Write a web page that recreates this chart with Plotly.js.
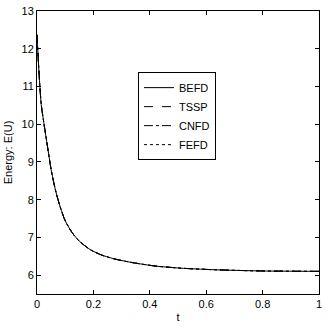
<!DOCTYPE html>
<html>
<head>
<meta charset="utf-8">
<script src="https://cdn.plot.ly/plotly-3.0.1.min.js"></script>
<style>
  html, body { margin: 0; padding: 0; background: #fff; }
  #chart { width: 327px; height: 327px; }
</style>
</head>
<body>
<div id="chart"></div>
<script>
// time samples and energy of each scheme (curves overlap)
let t = [0, 0.005, 0.01, 0.015, 0.025, 0.037, 0.05, 0.065, 0.08, 0.1, 0.125, 0.15, 0.19, 0.23, 0.28, 0.34, 0.42, 0.52, 0.64, 0.8, 1.0];
let energyBEFD = [12.37, 11.65, 11.02, 10.52, 10.0, 9.42, 8.8, 8.27, 7.86, 7.44, 7.12, 6.9, 6.67, 6.53, 6.42, 6.33, 6.24, 6.18, 6.14, 6.11, 6.1];
let energyTSSP = [12.37, 11.65, 11.02, 10.52, 10.0, 9.42, 8.8, 8.27, 7.86, 7.44, 7.12, 6.9, 6.67, 6.53, 6.42, 6.33, 6.24, 6.18, 6.14, 6.11, 6.1];
let energyCNFD = [12.37, 11.65, 11.02, 10.52, 10.0, 9.42, 8.8, 8.27, 7.86, 7.44, 7.12, 6.9, 6.67, 6.53, 6.42, 6.33, 6.24, 6.18, 6.14, 6.11, 6.1];
let energyFEFD = [12.37, 11.65, 11.02, 10.52, 10.0, 9.42, 8.8, 8.27, 7.86, 7.44, 7.12, 6.9, 6.67, 6.53, 6.42, 6.33, 6.24, 6.18, 6.14, 6.11, 6.1];

let names = ['BEFD', 'TSSP', 'CNFD', 'FEFD'];
let series = [energyBEFD, energyTSSP, energyCNFD, energyFEFD];
let dashes = ['solid', 'dash', 'dashdot', 'dot'];

let data = [];
for (let i = 0; i < names.length; i++) {
    data.push({
        x: t,
        y: series[i],
        mode: 'lines',
        name: names[i],
        line: { color: 'black', width: 1, dash: dashes[i], shape: 'spline', smoothing: 0.6 }
    });
}

let axisStyle = {
    showline: true,
    linecolor: 'black',
    linewidth: 1,
    mirror: 'ticks',
    ticks: 'inside',
    ticklen: 4,
    tickcolor: 'black',
    showgrid: false,
    zeroline: false,
    tickfont: { size: 11, color: 'black' }
};

let layout = {
    width: 327,
    height: 327,
    margin: { l: 37, r: 8, t: 11, b: 33 },
    paper_bgcolor: 'white',
    plot_bgcolor: 'white',
    font: { family: 'Liberation Sans, Arial, sans-serif', size: 11, color: 'black' },
    showlegend: true,
    legend: {
        x: 0.358, y: 0.784, xanchor: 'left', yanchor: 'top',
        bgcolor: 'white', bordercolor: 'black', borderwidth: 1,
        font: { size: 11 },
        itemwidth: 30,
        tracegroupgap: 0
    },
    xaxis: Object.assign({}, axisStyle, {
        range: [0, 1], tickvals: [0, 0.2, 0.4, 0.6, 0.8, 1],
        title: { text: 't', standoff: 4, font: { size: 11 } }
    }),
    yaxis: Object.assign({}, axisStyle, {
        range: [5.5, 13], tickvals: [6, 7, 8, 9, 10, 11, 12, 13],
        title: { text: 'Energy: E(U)', standoff: 6, font: { size: 11 } }
    })
};

Plotly.newPlot('chart', data, layout, { displayModeBar: false, staticPlot: true });
</script>
</body>
</html>
